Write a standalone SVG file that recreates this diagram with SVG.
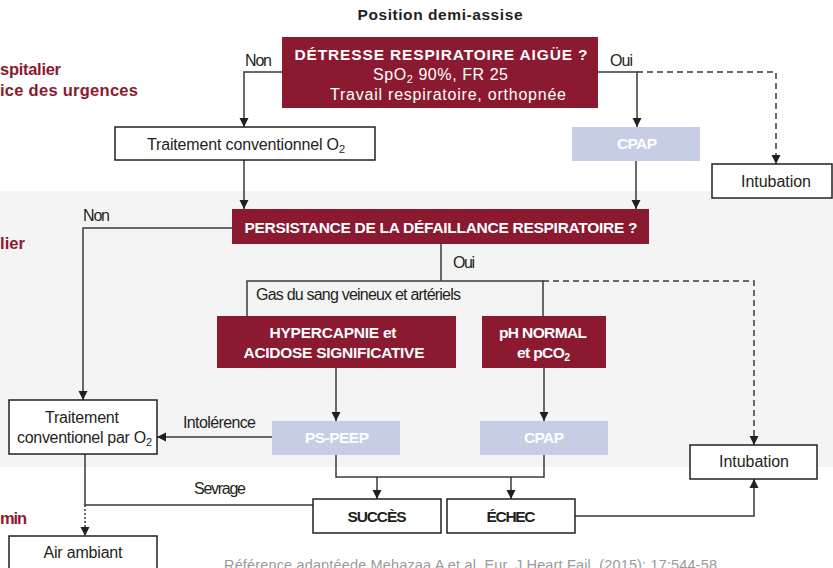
<svg xmlns="http://www.w3.org/2000/svg" width="833" height="568" viewBox="0 0 833 568">
  <style>
    text { font-family: "Liberation Sans", Arial, sans-serif; font-size: 16px; fill: #231f20; }
    .b { font-weight: bold; font-size: 15.5px; }
    .w { fill: #ffffff; }
    .red { fill: #8b1a31; font-weight: bold; font-size: 16.5px; }
    .c { text-anchor: middle; }
    .ref { fill: #9a9a9a; font-size: 14.5px; }
    .dark { fill: #8b1a31; }
    .lav { fill: #c8cde6; }
    .box { fill: #ffffff; stroke: #231f20; stroke-width: 1.5; }
    .ln { fill: none; stroke: #3a3a3a; stroke-width: 1.5; }
    .dash { stroke-dasharray: 6 4; }
    .dot { stroke-dasharray: 2 2; }
  </style>
  <defs>
    <marker id="arr" viewBox="0 0 10 10" refX="10" refY="5" markerWidth="9" markerHeight="10" markerUnits="userSpaceOnUse" orient="auto">
      <path d="M0,0 L10,5 L0,10 z" fill="#231f20"/>
    </marker>
  </defs>

  <!-- hospital stage band -->
  <rect x="0" y="191" width="833" height="276" fill="#f4f4f4"/>

  <!-- stage labels -->
  <text class="red" x="61" y="75" text-anchor="end" textLength="61">spitalier</text>
  <text class="red" x="138" y="96" text-anchor="end" textLength="138">ice des urgences</text>
  <text class="red" x="25" y="249" text-anchor="end" textLength="25">lier</text>
  <text class="red" x="27" y="524" text-anchor="end" textLength="27">min</text>

  <text class="b c" x="440" y="20" textLength="165">Position demi-assise</text>

  <!-- connectors -->
  <g id="connectors">
    <path class="ln" d="M282,72 H244 V127" marker-end="url(#arr)"/>
    <path class="ln" d="M598,72 H637 V127" marker-end="url(#arr)"/>
    <path class="ln dash" d="M637,72 H776 V164" marker-end="url(#arr)"/>
    <path class="ln" d="M244,160 V209" marker-end="url(#arr)"/>
    <path class="ln" d="M636,161 V209" marker-end="url(#arr)"/>
    <path class="ln" d="M232,228 H83 V400" marker-end="url(#arr)"/>
    <path class="ln" d="M441,244 V281"/>
    <path class="ln" d="M247,316 V281 H543 V316"/>
    <path class="ln dash" d="M543,281 H754 V445" marker-end="url(#arr)"/>
    <path class="ln" d="M336,368 V421" marker-end="url(#arr)"/>
    <path class="ln" d="M544,368 V421" marker-end="url(#arr)"/>
    <path class="ln" d="M272,437 H157" marker-end="url(#arr)"/>
    <path class="ln" d="M336,455 V477 H544 V455"/>
    <path class="ln" d="M377,477 V499" marker-end="url(#arr)"/>
    <path class="ln" d="M511,477 V499" marker-end="url(#arr)"/>
    <path class="ln" d="M85,454 V505 H313"/>
    <path class="ln dot" d="M85,505 V536" marker-end="url(#arr)"/>
    <path class="ln" d="M575,516 H754 V479" marker-end="url(#arr)"/>
    <!-- branch labels -->
    <text x="245" y="66" textLength="27">Non</text>
    <text x="610" y="66" textLength="23">Oui</text>
    <text x="83" y="221" textLength="27">Non</text>
    <text x="453" y="268" textLength="22">Oui</text>
    <text x="256" y="300" textLength="205">Gas du sang veineux et artériels</text>
    <text x="183" y="428" textLength="73">Intolérence</text>
    <text x="194" y="494" textLength="52">Sevrage</text>
  </g>

  <g id="detresse">
    <rect class="dark" x="282" y="37" width="316" height="71"/>
    <text class="b w c" x="441" y="60" textLength="293">DÉTRESSE RESPIRATOIRE AIGÜE ?</text>
    <text class="w" x="373" y="80" textLength="135">SpO<tspan font-size="11" dy="3">2</tspan><tspan dy="-3"> 90%, FR 25</tspan></text>
    <text class="w c" x="448" y="100" textLength="236">Travail respiratoire, orthopnée</text>
  </g>

  <g id="traitement-o2">
    <rect class="box" x="115" y="127" width="260" height="33"/>
    <text x="147" y="150" textLength="198">Traitement conventionnel O<tspan font-size="11" dy="3">2</tspan></text>
  </g>

  <g id="cpap-1">
    <rect class="lav" x="572" y="127" width="128" height="34"/>
    <text class="b w c" x="637" y="149" textLength="40">CPAP</text>
  </g>

  <g id="intubation-1">
    <rect class="box" x="712" y="164" width="120" height="34"/>
    <text class="c" x="776" y="187" textLength="70">Intubation</text>
  </g>

  <g id="persistance">
    <rect class="dark" x="232" y="209" width="417" height="35"/>
    <text class="b w c" x="441" y="233" textLength="393">PERSISTANCE DE LA DÉFAILLANCE RESPIRATOIRE ?</text>
  </g>

  <g id="hypercapnie">
    <rect class="dark" x="217" y="316" width="239" height="52"/>
    <text class="b w c" x="333" y="338" textLength="127">HYPERCAPNIE et</text>
    <text class="b w c" x="334" y="358" textLength="181">ACIDOSE SIGNIFICATIVE</text>
  </g>

  <g id="ph-normal">
    <rect class="dark" x="482" y="316" width="124" height="52"/>
    <text class="b w c" x="543" y="338" textLength="88">pH NORMAL</text>
    <text class="b w" x="517" y="358" textLength="53">et pCO<tspan font-size="10.5" dy="3">2</tspan></text>
  </g>

  <g id="ps-peep">
    <rect class="lav" x="272" y="421" width="128" height="34"/>
    <text class="b w c" x="337" y="443" textLength="64">PS-PEEP</text>
  </g>

  <g id="cpap-2">
    <rect class="lav" x="480" y="421" width="128" height="34"/>
    <text class="b w c" x="544" y="443" textLength="40">CPAP</text>
  </g>

  <g id="traitement-par-o2">
    <rect class="box" x="9" y="400" width="148" height="54"/>
    <text class="c" x="82" y="423" textLength="74">Traitement</text>
    <text x="17" y="443" textLength="135">conventionel par O<tspan font-size="11" dy="3">2</tspan></text>
  </g>

  <g id="intubation-2">
    <rect class="box" x="690" y="445" width="127" height="34"/>
    <text class="c" x="754" y="467" textLength="70">Intubation</text>
  </g>

  <g id="succes">
    <rect class="box" x="313" y="499" width="128" height="34"/>
    <text class="b c" x="377" y="522" textLength="59">SUCCÈS</text>
  </g>

  <g id="echec">
    <rect class="box" x="447" y="499" width="128" height="34"/>
    <text class="b c" x="511" y="522" textLength="49">ÉCHEC</text>
  </g>

  <g id="air-ambiant">
    <rect class="box" x="9" y="536" width="148" height="40"/>
    <text class="c" x="83" y="558" textLength="79">Air ambiant</text>
  </g>

  <text class="ref" x="224" y="570" textLength="493">Référence adaptéede Mehazaa A et al. Eur. J Heart Fail. (2015): 17:544-58</text>
</svg>
